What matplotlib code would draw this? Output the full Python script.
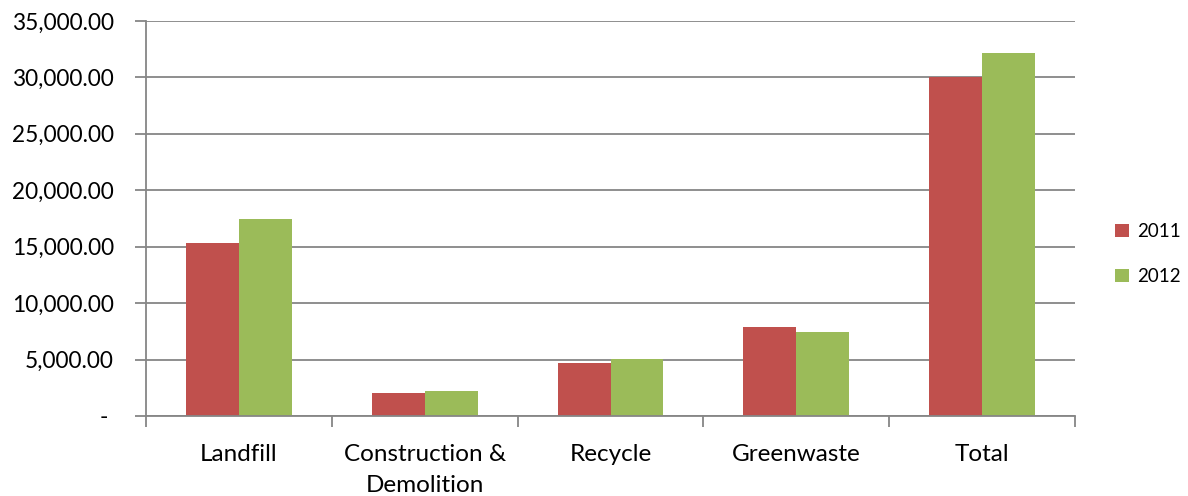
import matplotlib.pyplot as plt
import numpy as np
from matplotlib.ticker import FuncFormatter

plt.rcParams['font.family'] = ['Lato', 'DejaVu Sans']

categories = ['Landfill', 'Construction &\nDemolition', 'Recycle', 'Greenwaste', 'Total']
years = ['2011', '2012']
vals_2011 = [15330, 2040, 4700, 7890, 30030]
vals_2012 = [17450, 2215, 5050, 7440, 32130]
colors = ['#C0504D', '#9BBB59']

fig = plt.figure(figsize=(11.88, 4.96), dpi=100)
ax = fig.add_axes([0.1229, 0.1613, 0.7820, 0.7964])

x = np.arange(len(categories))
w = 0.285
ax.bar(x - w/2, vals_2011, w, color=colors[0], label=years[0], zorder=3)
ax.bar(x + w/2, vals_2012, w, color=colors[1], label=years[1], zorder=3)

ax.set_xlim(-0.5, len(categories) - 0.5)
ax.set_ylim(0, 35000)
ax.set_yticks(np.arange(0, 35001, 5000))

def fmt(v, pos):
    if v == 0:
        return '- '
    return f'{v:,.2f}'
ax.yaxis.set_major_formatter(FuncFormatter(fmt))

ax.set_xticks(x)
ax.set_xticklabels(categories, linespacing=1.6)
ax.set_xticks(np.arange(-0.5, len(categories), 1), minor=True)
ax.tick_params(axis='x', which='major', length=0, pad=20, labelsize=17.5)
ax.tick_params(axis='x', which='minor', length=8, width=1.3, color='#868686', direction='out')
ax.tick_params(axis='y', length=8, width=1.3, color='#868686', labelsize=16.3, pad=15)

ax.grid(axis='y', color='#868686', linewidth=1.3, zorder=0)
for s in ['top', 'right']:
    ax.spines[s].set_visible(False)
for s in ['left', 'bottom']:
    ax.spines[s].set_color('#868686')
    ax.spines[s].set_linewidth(1.3)
ax.spines['bottom'].set_zorder(4)

ax.legend(loc='center left', bbox_to_anchor=(1.025, 0.41), frameon=False,
          fontsize=13.5, handlelength=0.75, handleheight=0.75, handletextpad=0.4,
          labelspacing=1.5)

fig.savefig('out.png', dpi=100)
